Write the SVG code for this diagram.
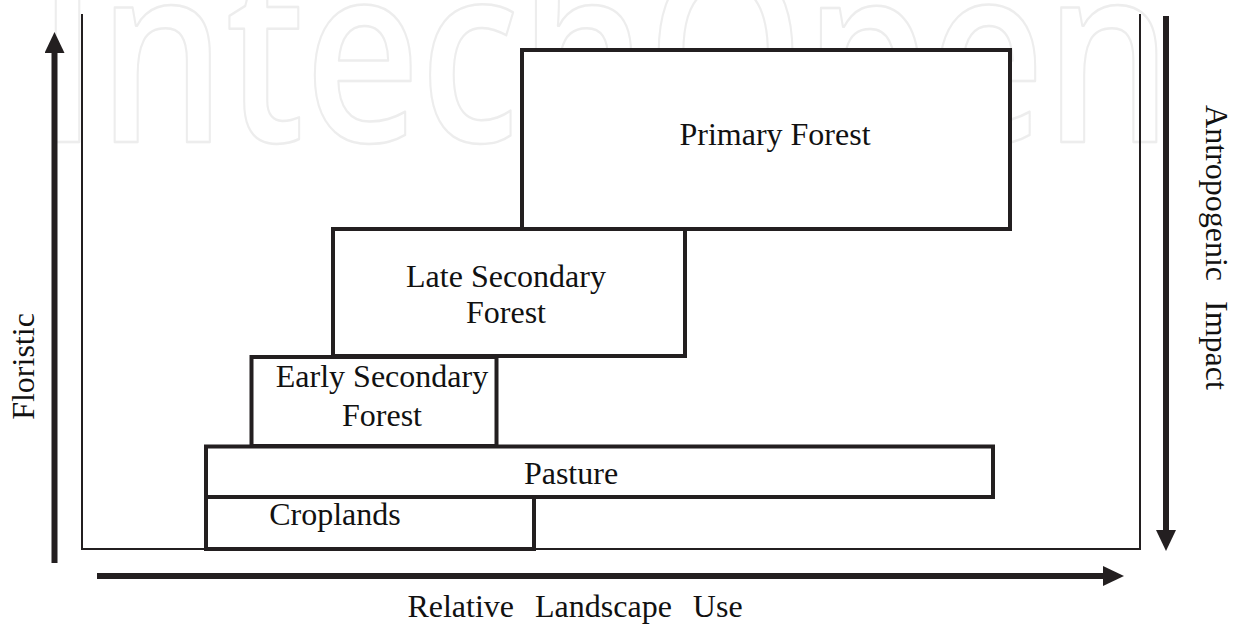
<svg xmlns="http://www.w3.org/2000/svg" width="1239" height="624" viewBox="0 0 1239 624">
  <style>
    .wm { font-family: "Open Sans", "DejaVu Sans", sans-serif; font-weight: 600; font-size: 248px; fill: none; stroke: #ededed; stroke-width: 2.5; stroke-linejoin: round; }
    .box { fill: #ffffff; stroke: #231f20; stroke-width: 4; }
    .lbl { font-family: "Liberation Serif", "Times New Roman", serif; font-size: 32px; fill: #111111; text-anchor: middle; }
    .axis { stroke: #231f20; stroke-width: 6; fill: none; }
    .frame { stroke: #231f20; stroke-width: 2; fill: none; }
  </style>
  <defs>
    <marker id="head" viewBox="0 0 21 20" refX="1" refY="10" markerWidth="21" markerHeight="20" markerUnits="userSpaceOnUse" orient="auto">
      <path d="M0,0 L21,10 L0,20 Z" fill="#231f20"/>
    </marker>
  </defs>
  <rect x="0" y="0" width="1239" height="624" fill="#ffffff"/>

  <g id="watermark">
    <text class="wm" x="37" y="142" textLength="1135" lengthAdjust="spacingAndGlyphs">IntechOpen</text>
  </g>

  <g id="frame">
    <polyline class="frame" points="82,14 82,549 1140,549 1140,14"/>
  </g>

  <g id="connectors">
    <line class="axis" x1="54.5" y1="563" x2="54.5" y2="52" marker-end="url(#head)"/>
    <line class="axis" x1="1166" y1="16" x2="1166" y2="531" marker-end="url(#head)"/>
    <line class="axis" x1="97" y1="576" x2="1104" y2="576" marker-end="url(#head)"/>
  </g>

  <g id="primary-forest">
    <rect class="box" x="522" y="50" width="488" height="179"/>
    <text class="lbl" x="775" y="145">Primary Forest</text>
  </g>

  <g id="late-secondary-forest">
    <rect class="box" x="333" y="229" width="352" height="127"/>
    <text class="lbl" x="506" y="287">Late Secondary</text>
    <text class="lbl" x="506" y="323">Forest</text>
  </g>

  <g id="early-secondary-forest">
    <rect class="box" x="251.5" y="357" width="245" height="89"/>
    <text class="lbl" x="382" y="387">Early Secondary</text>
    <text class="lbl" x="382" y="426">Forest</text>
  </g>

  <g id="pasture">
    <rect class="box" x="206" y="446.5" width="787" height="50.5"/>
    <text class="lbl" x="571" y="484">Pasture</text>
  </g>

  <g id="croplands">
    <rect class="box" x="206" y="497" width="328" height="52"/>
    <text class="lbl" x="335" y="525">Croplands</text>
  </g>

  <g id="axis-labels">
    <text class="lbl" transform="translate(34,366.5) rotate(-90)">Floristic</text>
    <text class="lbl" transform="translate(1206,247.5) rotate(90)" word-spacing="12">Antropogenic Impact</text>
    <text class="lbl" x="575" y="617" word-spacing="13">Relative Landscape Use</text>
  </g>
</svg>
